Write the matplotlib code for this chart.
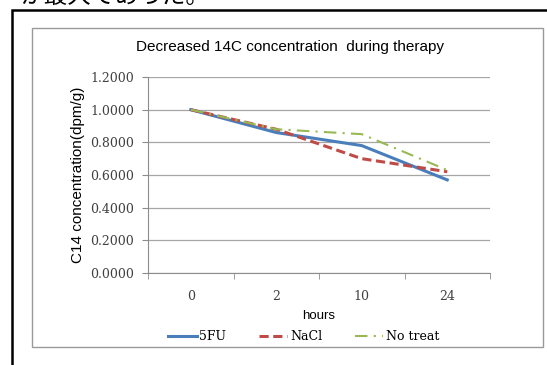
import matplotlib
matplotlib.use('Agg')
import matplotlib.pyplot as plt
from matplotlib.patches import Rectangle

# data
hours = ['0', '2', '10', '24']
fu5 = [1.00, 0.86, 0.78, 0.57]
nacl = [1.00, 0.88, 0.70, 0.62]
notreat = [1.00, 0.88, 0.85, 0.63]
yticks = [0.0, 0.2, 0.4, 0.6, 0.8, 1.0, 1.2]

W, H = 547, 365
fig = plt.figure(figsize=(W / 100, H / 100), dpi=100)
fig.patch.set_facecolor('white')

def fx(px):
    return px / W

def fy(py):
    return 1 - py / H

# clipped japanese line at the very top of the page
fig.text(fx(20), fy(8), 'が最大であった。', fontsize=17, family=['Noto Sans CJK JP', 'DejaVu Sans'],
         va='bottom', ha='left', color='black')

# outer black frame (page box) and inner grey chart frame
fig.patches.append(Rectangle((fx(12), fy(380)), fx(540), 370 / H, transform=fig.transFigure,
                             fill=False, edgecolor='black', linewidth=1.8))
fig.patches.append(Rectangle((fx(32), fy(347)), fx(511), 319 / H, transform=fig.transFigure,
                             fill=False, edgecolor='#9a9a9a', linewidth=1.0))

ax = fig.add_axes([fx(148), fy(273), fx(342), 196 / H])
x = list(range(len(hours)))
ax.plot(x, fu5, color='#4a7ebb', linewidth=2.2, label='5FU')
ax.plot(x, nacl, color='#be4b48', linewidth=2.2, linestyle=(0, (3, 1.5)), label='NaCl')
ax.plot(x, notreat, color='#98b954', linewidth=1.5, linestyle=(0, (6, 3, 1, 3)), label='No treat')

tickfont = {'family': 'DejaVu Serif', 'size': 9, 'color': '#404040'}
ax.set_xlim(-0.5, 3.5)
ax.set_ylim(0, 1.2)
ax.set_yticks(yticks)
ax.set_yticklabels(['%.4f' % v for v in yticks], **tickfont)
ax.set_xticks(x)
ax.set_xticklabels(hours, **tickfont)
ax.set_xticks([-0.5, 0.5, 1.5, 2.5, 3.5], minor=True)
ax.tick_params(axis='x', which='major', length=0, pad=12)
ax.tick_params(axis='x', which='minor', length=4, color='#8c8c8c')
ax.tick_params(axis='y', length=4, color='#8c8c8c', pad=6)
ax.grid(axis='y', color='#a6a6a6', linewidth=0.9)
ax.set_axisbelow(True)
for s in ['top', 'right']:
    ax.spines[s].set_visible(False)
ax.spines['left'].set_color('#8c8c8c')
ax.spines['bottom'].set_color('#8c8c8c')

ax.set_xlabel('hours', family='Liberation Sans', fontsize=9.5, labelpad=5)
ax.set_ylabel('C14 concentration(dpm/g)', family='Liberation Sans', fontsize=11, labelpad=4)
fig.text(fx(290), fy(47), 'Decreased 14C concentration  during therapy', family='Liberation Sans',
         fontsize=11, ha='center', va='center')

leg = ax.legend(loc='upper center', bbox_to_anchor=(0.455, -0.235), ncol=3, frameon=False,
                prop={'family': 'DejaVu Serif', 'size': 9}, handlelength=2.3,
                columnspacing=2.6, handletextpad=0.2)

fig.savefig('out.png', dpi=100)
